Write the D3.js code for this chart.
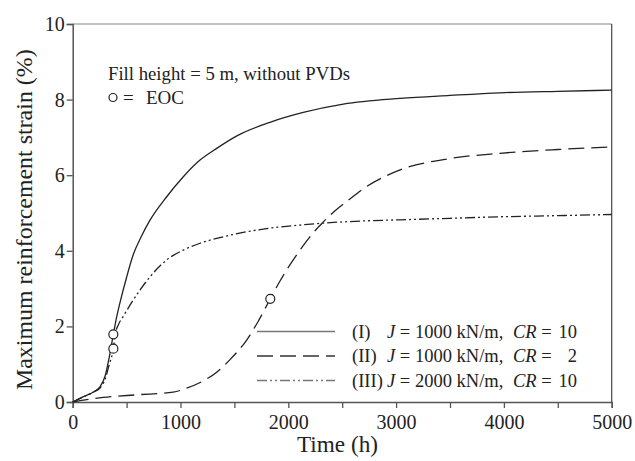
<!DOCTYPE html>
<html><head><meta charset="utf-8">
<script src="https://cdn.jsdelivr.net/npm/d3@7"></script>
<style>body{margin:0;background:#fff;font-family:'Liberation Serif',serif}</style>
</head><body><svg id="c" width="635" height="461" font-family="Liberation Serif, serif"></svg>
<script>
const xTicks = [0,1000,2000,3000,4000,5000];
const yTicks = [0,2,4,6,8,10];
const tI  = [0,100,200,253,300,340,377,408,445,500,562,640,717,872,1026,1181,1336,1536,1830,2139,2510,3037,3500,3965,4500,5000];
const vI  = [0,0.14,0.28,0.40,0.68,1.20,1.79,2.25,2.70,3.30,3.90,4.40,4.81,5.43,5.96,6.40,6.71,7.06,7.40,7.66,7.88,8.03,8.11,8.18,8.22,8.25];
const tII = [0,100,284,594,933,1050,1212,1336,1459,1614,1720,1833,1923,2109,2232,2310,2418,2557,2727,3037,3500,3965,4500,5000];
const vII = [0,0.05,0.12,0.19,0.26,0.36,0.56,0.79,1.12,1.64,2.13,2.73,3.20,4.02,4.48,4.72,5.02,5.34,5.70,6.14,6.44,6.58,6.68,6.75];
const tIII = [0,100,200,253,300,340,377,395,423,470,562,717,872,1026,1181,1366,1536,1830,2108,2310,2700,3037,3500,3965,4500,5000];
const vIII = [0,0.14,0.27,0.37,0.60,1.00,1.41,1.80,2.04,2.27,2.70,3.31,3.76,4.02,4.20,4.35,4.46,4.60,4.68,4.73,4.79,4.82,4.86,4.90,4.93,4.96];
const eocT = [377,377,1833];
const eocV = [1.79,1.41,2.73];
const legendNames = ["(I)","(II)","(III)"];
const legendJ = ["1000","1000","2000"];
const legendCR = ["10","2","10"];

const FONT = "Liberation Serif";
const svg = d3.select("#c");
const x = d3.scaleLinear().domain([0,5000]).range([72.7,611.7]);
const y = d3.scaleLinear().domain([0,10]).range([402,24]);
const axisCol = "#555";

function txt(){ return svg.append("text").attr("font-family",FONT).attr("fill","#222"); }
function fit(sel, size, target){
  sel.attr("font-size", size);
  const w = sel.node().getComputedTextLength();
  if (w > 0) sel.attr("font-size", size * target / w);
  return sel;
}

svg.append("line").attr("x1",x(0)).attr("x2",x(5000)).attr("y1",y(10)).attr("y2",y(10)).attr("stroke","#888").attr("stroke-width",1.2);
svg.append("line").attr("x1",x(5000)).attr("x2",x(5000)).attr("y1",y(10)).attr("y2",y(0)).attr("stroke","#444").attr("stroke-width",1.2);

// tick font sized so that "1000" spans ~40px like the reference
const probe = fit(txt().attr("x",-100).attr("y",-100).text("1000"), 20, 40);
const tickSize = +probe.attr("font-size");
probe.remove();

const xa = svg.append("g").attr("transform",`translate(0,${y(0)})`)
  .call(d3.axisBottom(x).tickValues(d3.range(0,5001,500)).tickSize(6).tickFormat(d=> xTicks.includes(d)? d : ""));
const ya = svg.append("g").attr("transform",`translate(${x(0)},0)`)
  .call(d3.axisLeft(y).tickValues(yTicks).tickSize(6).tickFormat(d=>d));
[xa,ya].forEach(g=>{
  g.attr("font-family",FONT).attr("font-size",tickSize);
  g.select(".domain").attr("stroke",axisCol).attr("stroke-width",1.5);
  g.selectAll(".tick line").attr("stroke",axisCol).attr("stroke-width",1.3);
  g.selectAll(".tick text").attr("font-family",FONT).attr("fill","#222");
});
xa.selectAll(".tick text").attr("dy","0.71em").attr("y",13);
ya.selectAll(".tick text").attr("x",-8);

fit(txt().attr("x",337.5).attr("y",452).attr("text-anchor","middle").text("Time (h)"), 23, 81);
fit(txt().attr("transform","translate(32,219.7) rotate(-90)").attr("text-anchor","middle").text("Maximum reinforcement strain (%)"), 23, 341);

const line = d3.line().x(d=>x(d[0])).y(d=>y(d[1])).curve(d3.curveMonotoneX);
const styles = [{dash:null,col:"#222"},{dash:"16,7",col:"#222"},{dash:"10,3,2,3,2,3",col:"#222"}];
const series = [d3.zip(tI,vI), d3.zip(tII,vII), d3.zip(tIII,vIII)];
series.forEach((s,i)=>{
  svg.append("path").attr("d",line(s)).attr("fill","none").attr("stroke",styles[i].col)
    .attr("stroke-width",1.3).attr("stroke-dasharray",styles[i].dash);
});
svg.selectAll("circle.eoc").data(d3.zip(eocT,eocV)).join("circle").attr("class","eoc")
  .attr("cx",d=>x(d[0])).attr("cy",d=>y(d[1])).attr("r",4.5).attr("fill","#fff").attr("stroke","#222").attr("stroke-width",1.2);

fit(txt().attr("x",108).attr("y",80).text("Fill height = 5 m, without PVDs"), 18.5, 242);
svg.append("circle").attr("cx",113).attr("cy",97.5).attr("r",4).attr("fill","#fff").attr("stroke","#222").attr("stroke-width",1.2);
txt().attr("x",123).attr("y",103.5).attr("font-size",19).text("=");
txt().attr("x",146).attr("y",103.5).attr("font-size",19).text("EOC");

const ly = [331.5,356,380.5];
legendNames.forEach((n,i)=>{
  svg.append("line").attr("x1",257).attr("x2",335).attr("y1",ly[i]).attr("y2",ly[i])
    .attr("stroke", i===1 ? "#333" : "#777").attr("stroke-width",1.4).attr("stroke-dasharray",styles[i].dash);
  const by = ly[i]+6;
  txt().attr("x",352).attr("y",by).attr("font-size",18.5).text(n);
  const t = txt().attr("x",387).attr("y",by).attr("font-size",18.5);
  t.append("tspan").attr("font-style","italic").text("J");
  t.append("tspan").text(" = " + legendJ[i] + " kN/m,");
  const c = txt().attr("x",513).attr("y",by).attr("font-size",18.5);
  c.append("tspan").attr("font-style","italic").text("CR");
  c.append("tspan").text(" =");
  txt().attr("x",577).attr("y",by).attr("text-anchor","end").attr("font-size",18.5).text(legendCR[i]);
});
</script></body></html>
